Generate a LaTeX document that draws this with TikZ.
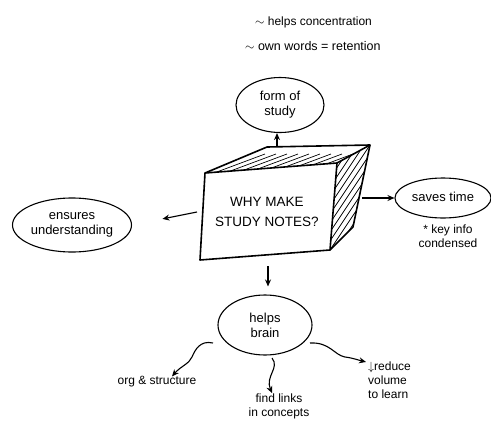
\documentclass[tikz,border=0pt]{standalone}
\usepackage{fontspec}
\setmainfont{Liberation Sans}
\usetikzlibrary{shapes.geometric,arrows.meta,calc}
\begin{document}
\begin{tikzpicture}[x=1pt,y=-1pt,
  bubble/.style={draw,ellipse,line width=1.1pt,inner sep=0pt,align=center,font=\fontsize{13}{15}\selectfont},
  arr/.style={line width=1.1pt,-{Stealth[length=7pt,width=6pt]}},
  lbl/.style={align=center,font=\fontsize{12}{14}\selectfont,inner sep=0pt},
  hatch/.style={line width=0.7pt},
  boxline/.style={line width=1.6pt,line join=round}]
\useasboundingbox (0,0) rectangle (491,421);
% top notes
\node[lbl,anchor=west,font=\fontsize{12}{14}\selectfont] (t1) at (255,22) {$\sim$ helps concentration};
\node[lbl,anchor=west,font=\fontsize{12.5}{14}\selectfont] (t2) at (245,46) {$\sim$ own words = retention};
% box
\coordinate (a) at (205,173);
\coordinate (b) at (337,163);
\coordinate (c) at (330,250);
\coordinate (d) at (200,260);
\coordinate (e) at (267,147);
\coordinate (f) at (370,145);
\coordinate (g) at (353,227);
\begin{scope}
  \clip (a)--(e)--(f)--(b)--cycle;
  \foreach \i in {0,...,16} \draw[hatch] (190+\i*11,182) -- ++(75,-28);
\end{scope}
\begin{scope}
  \clip (b)--(f)--(g)--(c)--cycle;
  \foreach \i in {0,...,14} \draw[hatch] (328,172+\i*9) -- ++(44,-66);
\end{scope}
\draw[boxline] (a)--(b)--(c)--(d)--cycle;
\draw[boxline] (a)--(e)--(f)--(b);
\draw[boxline] (f)--(g)--(c);
\node[lbl,font=\fontsize{13.5}{20}\selectfont] (q) at (267,212) {WHY MAKE\\STUDY NOTES?};
% bubbles
\node[bubble,minimum width=88pt,minimum height=55pt] (fs) at (280,105) {form of\\study};
\node[bubble,minimum width=119pt,minimum height=54pt] (eu) at (72,225) {ensures\\understanding};
\node[bubble,minimum width=96pt,minimum height=40pt] (st) at (443,198) {\raisebox{3pt}{saves time}};
\node[lbl] (kn) at (448,236) {* key info\\condensed};
\node[bubble,minimum width=94pt,minimum height=60pt] (hb) at (265,325) {helps\\brain};
% connectors from box
\coordinate (bt) at (277,146);
\draw[arr] (bt) -- (bt |- fs.south);
\coordinate (lft) at (197,212);
\draw[arr,shorten >=31pt] (lft) -- (eu.east);
\coordinate (rt) at (362,198);
\draw[arr] (rt) -- (st.west);
\coordinate (bb) at (268,266);
\draw[arr,shorten >=8pt] (bb) -- (bb |- hb.north);
% branches from helps brain
\node[lbl] (os) at (157,382) {org \& structure};
\node[lbl] (fl) at (279,406) {find links\\in concepts};
\node[lbl,align=left,anchor=north west] (rv) at (368,362) {$\downarrow$reduce\\volume\\to learn};
\coordinate (s1) at (213,343);
\draw[arr] (s1) .. controls (200,340) and (195,350) .. (192,357) .. controls (189,364) and (181,366) .. (os.north east -| 172,369);
\coordinate (s2) at (272,358);
\draw[arr] (s2) .. controls (280,368) and (265,376) .. (fl.north -| 272,392);
\coordinate (s3) at (310,343);
\draw[arr] (s3) .. controls (330,342) and (334,355) .. (345,357) .. controls (353,358) and (358,360) .. (rv.north west -| 366,364);
\end{tikzpicture}
\end{document}
